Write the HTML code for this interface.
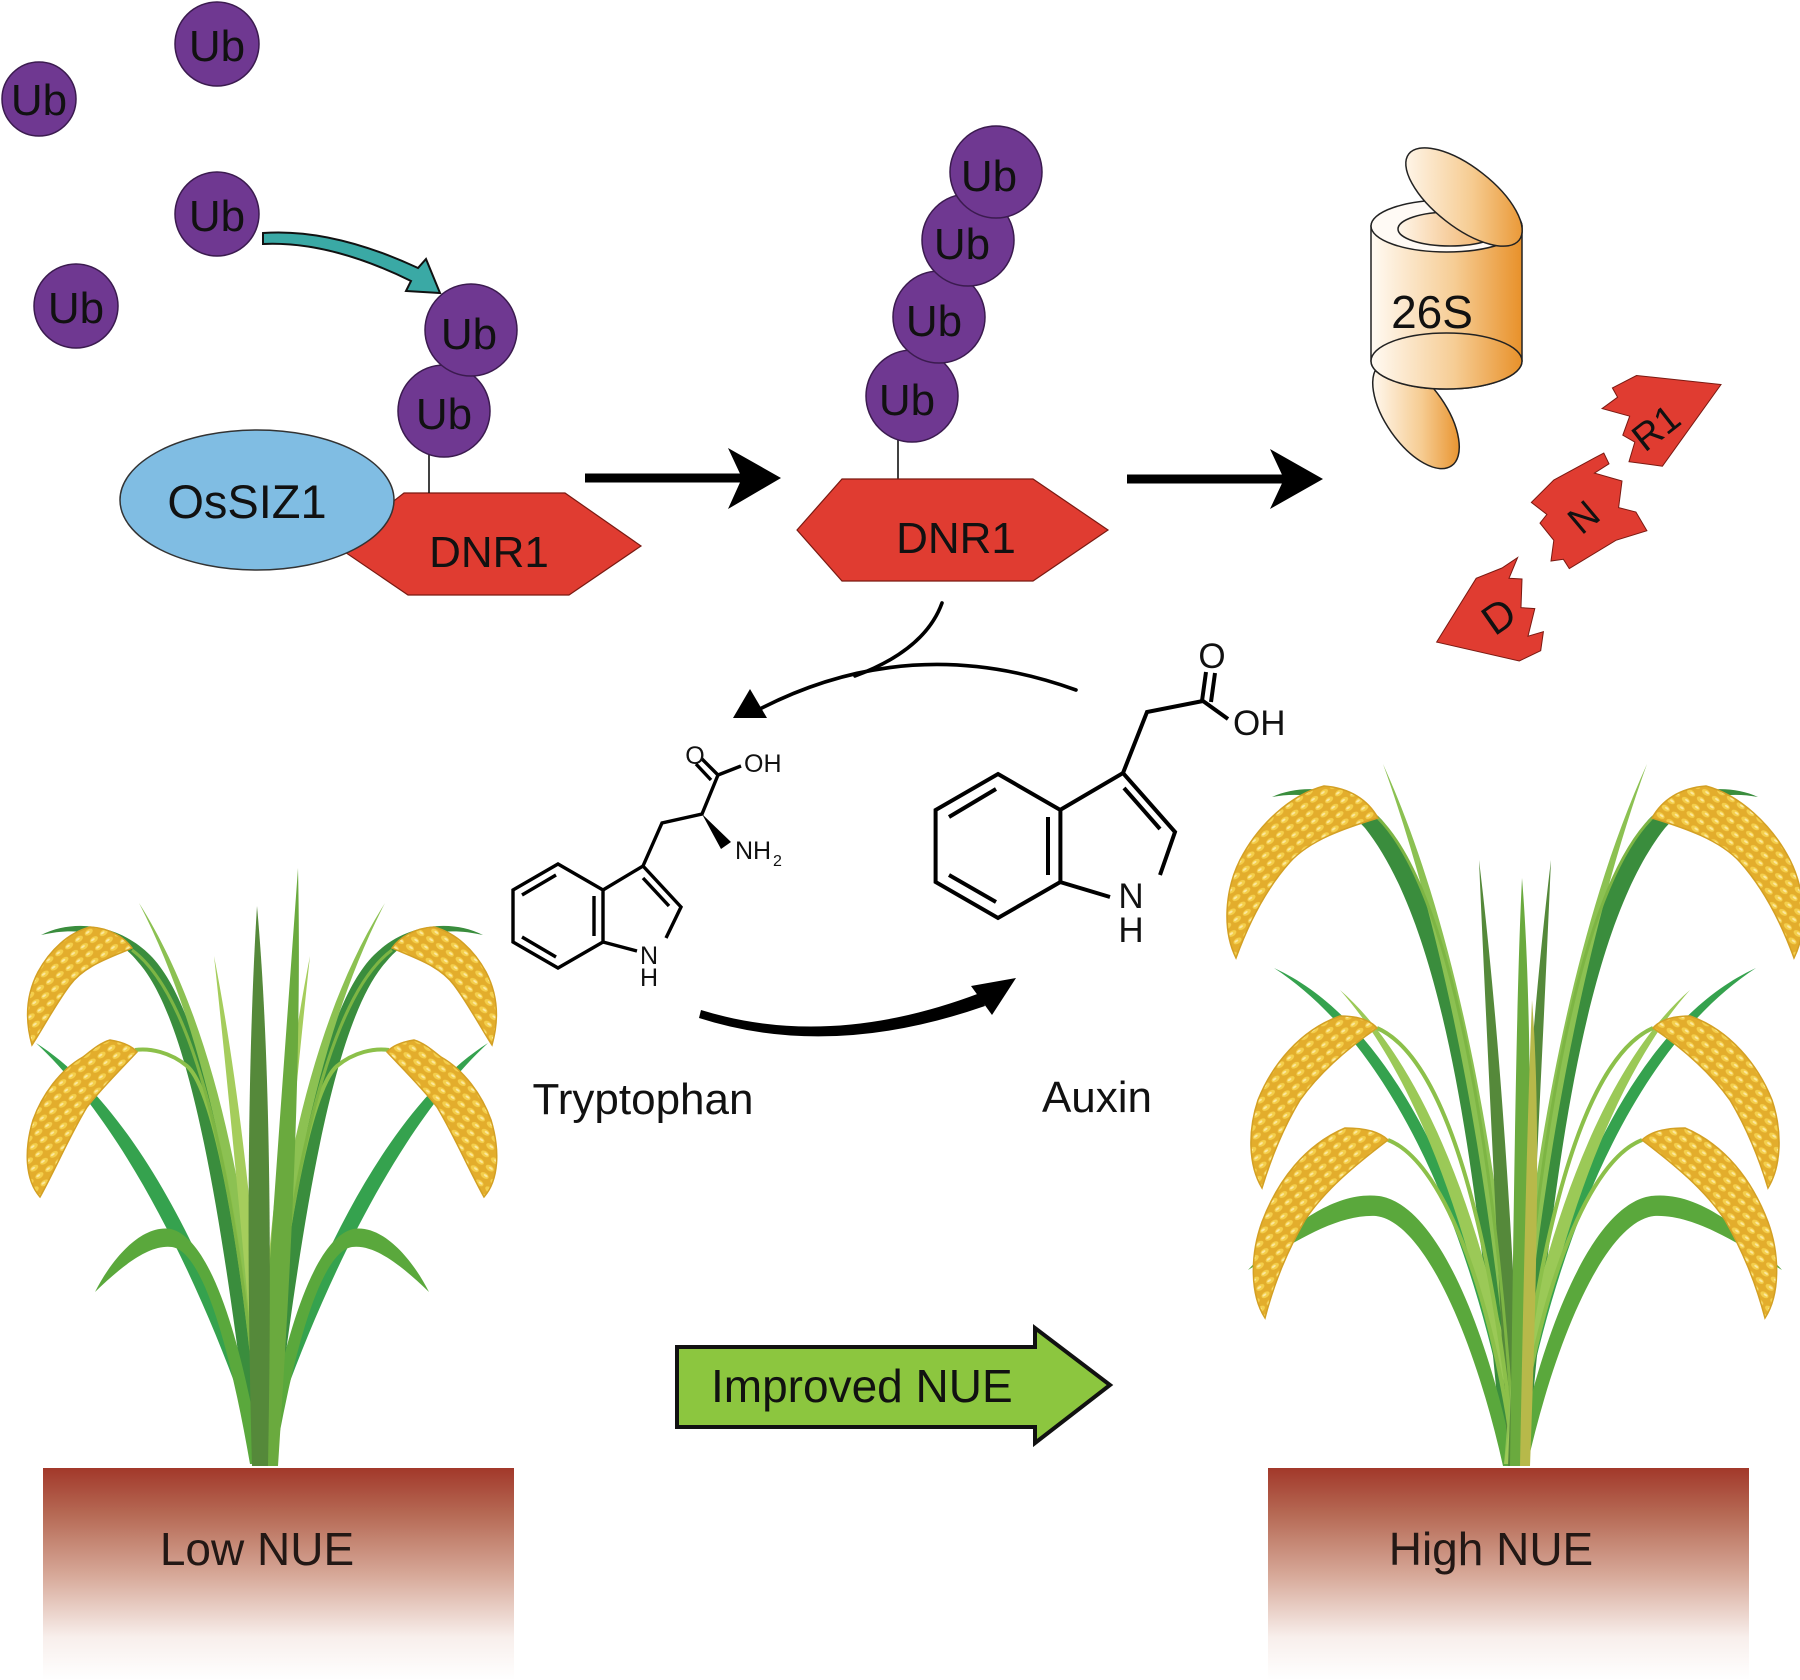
<!DOCTYPE html>
<html><head><meta charset="utf-8"><style>html,body{margin:0;padding:0;background:#fff}svg{display:block}</style></head>
<body>
<svg xmlns="http://www.w3.org/2000/svg" width="1800" height="1680" viewBox="0 0 1800 1680">
<defs>
<pattern id="grain" width="12" height="9" patternUnits="userSpaceOnUse" patternTransform="rotate(-35)">
<rect width="12" height="9" fill="#e3ad2c"/>
<ellipse cx="6" cy="4.5" rx="4.6" ry="2.7" fill="#f4cf4c"/>
<ellipse cx="5" cy="4" rx="2.2" ry="1" fill="#fbe8a0"/>
</pattern>
<linearGradient id="soil" x1="0" y1="0" x2="0" y2="1">
<stop offset="0" stop-color="#a2382a"/>
<stop offset="0.22" stop-color="#b66a55"/>
<stop offset="0.5" stop-color="#d6a797"/>
<stop offset="0.8" stop-color="#f8efec"/>
<stop offset="1" stop-color="#ffffff"/>
</linearGradient>
<linearGradient id="cyl" gradientUnits="userSpaceOnUse" x1="1371" y1="0" x2="1522" y2="0">
<stop offset="0" stop-color="#fffaf3"/><stop offset="0.55" stop-color="#f6cd95"/><stop offset="1" stop-color="#e8912a"/>
</linearGradient>
<linearGradient id="capT" gradientUnits="userSpaceOnUse" x1="1400" y1="0" x2="1530" y2="0">
<stop offset="0" stop-color="#fff8ef"/><stop offset="0.55" stop-color="#f6cc92"/><stop offset="1" stop-color="#e8912a"/>
</linearGradient>
<linearGradient id="capB" gradientUnits="userSpaceOnUse" x1="1372" y1="0" x2="1462" y2="0">
<stop offset="0" stop-color="#fff8ef"/><stop offset="0.55" stop-color="#f6cc92"/><stop offset="1" stop-color="#e8912a"/>
</linearGradient>
<linearGradient id="hole" gradientUnits="userSpaceOnUse" x1="1398" y1="0" x2="1502" y2="0">
<stop offset="0" stop-color="#fff6ea"/><stop offset="1" stop-color="#eea550"/>
</linearGradient>
</defs>

<!-- Free Ub -->
<g fill="#6f3891" stroke="#3b1b4f" stroke-width="1.5">
<circle cx="217" cy="44" r="42"/>
<circle cx="39" cy="99" r="37"/>
<circle cx="217" cy="214" r="42"/>
<circle cx="76" cy="306" r="42"/>
</g>

<!-- teal arrow -->
<path d="M263 233 Q332 228 418 268 L426 259 L440 293 L406 291 L411 281 Q330 241 263 244 Z" fill="#3aa9a5" stroke="#111" stroke-width="2" stroke-linejoin="miter"/>

<!-- left complex -->
<polygon points="336,546 404,493 565,493 641,546 569,595 408,595" fill="#e03c31" stroke="#7a1a12" stroke-width="1.2"/>
<ellipse cx="257" cy="500" rx="137" ry="70" fill="#80bde3" stroke="#333" stroke-width="1.5"/>
<line x1="429" y1="455" x2="429" y2="493" stroke="#111" stroke-width="1.6"/>
<g fill="#6f3891" stroke="#3b1b4f" stroke-width="1.5">
<circle cx="444" cy="411" r="46"/>
<circle cx="471" cy="330" r="46"/>
</g>

<!-- arrows black -->
<line x1="585" y1="478" x2="750" y2="478" stroke="#000" stroke-width="9"/>
<polygon points="781,478 728,448 742,478 728,509" fill="#000"/>
<line x1="1127" y1="479" x2="1292" y2="479" stroke="#000" stroke-width="9"/>
<polygon points="1323,479 1270,449 1284,479 1270,509" fill="#000"/>

<!-- middle complex -->
<line x1="898" y1="440" x2="898" y2="479" stroke="#111" stroke-width="1.6"/>
<polygon points="797,530 842,479 1033,479 1108,530 1033,581 842,581" fill="#e03c31" stroke="#7a1a12" stroke-width="1.2"/>
<g fill="#6f3891" stroke="#3b1b4f" stroke-width="1.5">
<circle cx="912" cy="396" r="46"/>
<circle cx="939" cy="317" r="46"/>
<circle cx="968" cy="240" r="46"/>
<circle cx="996" cy="172" r="46"/>
</g>

<!-- proteasome -->
<g stroke="#222" stroke-width="1.5">
<path d="M1380.4 364.2 A62 30 55 1 1 1451.6 465.8 A62 30 55 1 1 1380.4 364.2 Z" fill="url(#capB)"/>
<path d="M1371 226 L1371 361 A75.5 28 0 0 0 1522 361 L1522 226 Z" fill="url(#cyl)"/>
<ellipse cx="1446.5" cy="226" rx="75.5" ry="26" fill="#fffaf5"/>
<ellipse cx="1450" cy="229" rx="52" ry="17" fill="url(#hole)"/>
<ellipse cx="1446.5" cy="361" rx="75.5" ry="28" fill="url(#cyl)"/>
<path d="M1408.8 153.9 A70 30 38 1 1 1519.2 240.1 A70 30 38 1 1 1408.8 153.9 Z" fill="url(#capT)"/>
</g>

<!-- fragments -->
<g fill="#e03c31" stroke="#7a1a12" stroke-width="1">
<polygon points="1636.6,375.5 1612.4,387.9 1617.6,397.2 1602.1,408.6 1629.7,416.2 1622.8,435.2 1634.8,442.1 1629,461.7 1662.4,466.2 1721,384.5"/>
<polygon points="1531.4,502.4 1553.8,480 1595.2,457.6 1603.8,453.1 1609,463.8 1594.5,473.1 1622,481 1618.6,507.6 1635.9,512 1646.9,530.7 1615.9,540.3 1569.3,568.6 1563.4,559.3 1551,561 1553.8,540.3 1540,523.1 1546.9,514.5"/>
<polygon points="1436.6,642.1 1476.2,578.3 1502,568 1517.6,557.6 1509,578.3 1522,579 1521,607.6 1534.8,608.6 1528,636.2 1543.4,631.7 1540.7,650.7 1519.3,661"/>
</g>

<!-- upper curved arrow -->
<g fill="none" stroke="#000" stroke-width="3.6" stroke-linecap="round">
<path d="M1076 690 Q910 630 756 711"/>
<path d="M942 603 Q925 650 855 676"/>
</g>
<polygon points="750,689 733,718 767,718" fill="#000"/>

<!-- lower arrow -->
<path d="M701 1010 Q830 1050 980 993 L985 1006 Q830 1060 699 1018 Z" fill="#000"/>
<polygon points="1016,978 971,986 992,1015" fill="#000"/>

<!-- Tryptophan -->
<g fill="none" stroke="#000" stroke-width="3.4" stroke-linejoin="miter" stroke-linecap="butt">
<polygon points="558,864 603,890 603,942 558,968 513,942 513,890"/>
<line x1="522" y1="895" x2="556" y2="875"/>
<line x1="594" y1="896" x2="594" y2="936"/>
<line x1="522" y1="937" x2="556" y2="957"/>
<polyline points="603,890 643,866 681,907 666,938"/>
<line x1="637" y1="951" x2="603" y2="942"/>
<line x1="643" y1="878" x2="669" y2="906"/>
<polyline points="643,866 662,823 702,814 718,775"/>
<line x1="718" y1="775" x2="702" y2="759"/>
<line x1="711" y1="780" x2="696" y2="764"/>
<line x1="718" y1="775" x2="741" y2="766"/>
</g>
<polygon points="702,814 721,849 731,842" fill="#000"/>

<!-- Auxin -->
<g fill="none" stroke="#000" stroke-width="4" stroke-linejoin="miter">
<polygon points="998,774 1060.4,810 1060.4,882 998,918 935.6,882 935.6,810"/>
<line x1="949" y1="817" x2="996" y2="789"/>
<line x1="1048" y1="817" x2="1048" y2="875"/>
<line x1="949" y1="875" x2="996" y2="902"/>
<polyline points="1060,810 1123,773 1175,832 1160,875"/>
<line x1="1110" y1="897" x2="1060" y2="882"/>
<line x1="1124" y1="788" x2="1160" y2="829"/>
<polyline points="1123,773 1147,712 1203,701"/>
<line x1="1202" y1="701" x2="1206" y2="672"/>
<line x1="1211" y1="702" x2="1215" y2="673"/>
<line x1="1203" y1="701" x2="1228" y2="719"/>
</g>

<!-- Improved NUE arrow -->
<polygon points="677,1347 1035,1347 1035,1328 1110,1385 1035,1443 1035,1427 677,1427" fill="#8cc63f" stroke="#111" stroke-width="4" stroke-linejoin="miter"/>

<!-- Soil -->
<rect x="43" y="1468" width="471" height="212" fill="url(#soil)"/>
<rect x="1268" y="1468" width="481" height="212" fill="url(#soil)"/>

<!-- Left plant -->
<g>
<g>
<path d="M262 1462 C220 1330 140 1140 36 1043 C150 1115 236 1320 271 1462 Z" fill="#35a24e"/>
<path d="M264 1462 C240 1250 215 1020 150 955 C120 925 75 918 41 935 C80 926 115 933 138 962 C195 1025 226 1250 252 1462 Z" fill="#3a8d3d"/>
<path d="M262 1462 C245 1250 215 1050 139 903 C226 1040 256 1250 271 1462 Z" fill="#8cc152"/>
<path d="M262 1462 Q235 1150 214 956 Q252 1150 271 1462 Z" fill="#a5cd5c"/>
<path d="M262 1464 C245 1360 215 1240 171 1229 C140 1224 110 1262 95 1292 C120 1268 148 1244 172 1247 C205 1252 232 1360 250 1464 Z" fill="#5aa83c"/>
<path d="M262 1462 C245 1250 215 1090 187 1066 C170 1052 150 1048 135 1050" fill="none" stroke="#8cc04a" stroke-width="4"/>
<path d="M262 1462 C240 1200 200 1000 132 950" fill="none" stroke="#7db544" stroke-width="3"/>
</g>
<g transform="matrix(-1 0 0 1 524 0)">
<path d="M262 1462 C220 1330 140 1140 36 1043 C150 1115 236 1320 271 1462 Z" fill="#35a24e"/>
<path d="M264 1462 C240 1250 215 1020 150 955 C120 925 75 918 41 935 C80 926 115 933 138 962 C195 1025 226 1250 252 1462 Z" fill="#3a8d3d"/>
<path d="M262 1462 C245 1250 215 1050 139 903 C226 1040 256 1250 271 1462 Z" fill="#8cc152"/>
<path d="M262 1462 Q235 1150 214 956 Q252 1150 271 1462 Z" fill="#a5cd5c"/>
<path d="M262 1464 C245 1360 215 1240 171 1229 C140 1224 110 1262 95 1292 C120 1268 148 1244 172 1247 C205 1252 232 1360 250 1464 Z" fill="#5aa83c"/>
<path d="M262 1462 C245 1250 215 1090 187 1066 C170 1052 150 1048 135 1050" fill="none" stroke="#8cc04a" stroke-width="4"/>
<path d="M262 1462 C240 1200 200 1000 132 950" fill="none" stroke="#7db544" stroke-width="3"/>
</g>
<path d="M256 1466 C270 1250 285 1050 298 868 C302 1050 292 1250 278 1466 Z" fill="#6aaa3e"/>
<path d="M252 1466 C246 1250 248 1050 257 906 C270 1050 272 1250 268 1466 Z" fill="#55893a"/>
<g fill="url(#grain)" stroke="#d3a024" stroke-width="1.5">
<path d="M90 927 C110 928 125 938 132 948 C110 958 85 965 70 985 C55 1005 42 1030 32 1045 C25 1020 26 995 38 972 C50 950 68 933 90 927 Z"/>
<path d="M110 1040 C122 1042 132 1046 137 1052 C120 1070 100 1090 87 1107 C70 1135 55 1170 40 1197 C25 1180 24 1150 33 1120 C42 1095 60 1070 83 1057 C92 1050 100 1043 110 1040 Z"/>
</g>
<g fill="url(#grain)" stroke="#d3a024" stroke-width="1.5" transform="matrix(-1 0 0 1 524 0)">
<path d="M90 927 C110 928 125 938 132 948 C110 958 85 965 70 985 C55 1005 42 1030 32 1045 C25 1020 26 995 38 972 C50 950 68 933 90 927 Z"/>
<path d="M110 1040 C122 1042 132 1046 137 1052 C120 1070 100 1090 87 1107 C70 1135 55 1170 40 1197 C25 1180 24 1150 33 1120 C42 1095 60 1070 83 1057 C92 1050 100 1043 110 1040 Z"/>
</g>
</g>

<!-- Right plant -->
<g>
<g>
<path d="M1515 1464 C1480 1250 1400 1050 1274 968 C1410 1030 1492 1250 1526 1464 Z" fill="#35a24e"/>
<path d="M1517 1464 C1497 1200 1472 930 1382 820 C1352 788 1305 782 1272 797 C1310 790 1340 800 1365 828 C1450 935 1480 1200 1503 1464 Z" fill="#3a8d3d"/>
<path d="M1515 1464 C1495 1200 1450 950 1383 764 C1465 945 1505 1200 1526 1464 Z" fill="#8cc152"/>
<path d="M1515 1464 C1480 1250 1420 1080 1340 990 C1430 1068 1496 1250 1526 1464 Z" fill="#9bc957"/>
<path d="M1515 1466 C1490 1340 1440 1205 1379 1196 C1330 1190 1280 1235 1248 1270 C1290 1245 1335 1214 1376 1216 C1425 1222 1475 1340 1503 1466 Z" fill="#5aa83c"/>
<path d="M1508 1466 C1495 1200 1485 1000 1479 860 C1496 1000 1512 1200 1522 1466 Z" fill="#55893a"/>
<path d="M1515 1464 C1495 1250 1450 1060 1377 1028" fill="none" stroke="#8cc04a" stroke-width="4"/>
<path d="M1515 1464 C1490 1280 1440 1160 1388 1140" fill="none" stroke="#8cc04a" stroke-width="4"/>
<path d="M1515 1464 C1500 1200 1460 900 1378 818" fill="none" stroke="#7db544" stroke-width="3"/>
</g>
<g transform="matrix(-1 0 0 1 3030 0)">
<path d="M1515 1464 C1480 1250 1400 1050 1274 968 C1410 1030 1492 1250 1526 1464 Z" fill="#35a24e"/>
<path d="M1517 1464 C1497 1200 1472 930 1382 820 C1352 788 1305 782 1272 797 C1310 790 1340 800 1365 828 C1450 935 1480 1200 1503 1464 Z" fill="#3a8d3d"/>
<path d="M1515 1464 C1495 1200 1450 950 1383 764 C1465 945 1505 1200 1526 1464 Z" fill="#8cc152"/>
<path d="M1515 1464 C1480 1250 1420 1080 1340 990 C1430 1068 1496 1250 1526 1464 Z" fill="#9bc957"/>
<path d="M1515 1466 C1490 1340 1440 1205 1379 1196 C1330 1190 1280 1235 1248 1270 C1290 1245 1335 1214 1376 1216 C1425 1222 1475 1340 1503 1466 Z" fill="#5aa83c"/>
<path d="M1508 1466 C1495 1200 1485 1000 1479 860 C1496 1000 1512 1200 1522 1466 Z" fill="#55893a"/>
<path d="M1515 1464 C1495 1250 1450 1060 1377 1028" fill="none" stroke="#8cc04a" stroke-width="4"/>
<path d="M1515 1464 C1490 1280 1440 1160 1388 1140" fill="none" stroke="#8cc04a" stroke-width="4"/>
<path d="M1515 1464 C1500 1200 1460 900 1378 818" fill="none" stroke="#7db544" stroke-width="3"/>
</g>
<path d="M1510 1466 C1514 1200 1516 1000 1522 878 C1532 1000 1532 1200 1526 1466 Z" fill="#6aaa3e"/>
<path d="M1520 1466 C1524 1250 1528 1100 1532 1000 C1540 1100 1538 1250 1530 1466 Z" fill="#b7b94a"/>
<g fill="url(#grain)" stroke="#d3a024" stroke-width="1.5">
<path d="M1324 786 C1350 788 1368 800 1378 818 C1345 828 1310 840 1290 862 C1265 890 1248 925 1236 958 C1222 930 1225 890 1240 860 C1258 825 1290 795 1324 786 Z"/>
<path d="M1340 1016 C1358 1016 1370 1020 1377 1028 C1345 1050 1318 1075 1300 1100 C1285 1125 1272 1155 1262 1188 C1248 1165 1248 1130 1258 1100 C1272 1065 1300 1030 1340 1016 Z"/>
<path d="M1345 1128 C1365 1128 1380 1132 1388 1140 C1355 1165 1325 1190 1305 1220 C1288 1250 1275 1280 1265 1318 C1250 1295 1250 1255 1262 1222 C1278 1180 1305 1145 1345 1128 Z"/>
</g>
<g fill="url(#grain)" stroke="#d3a024" stroke-width="1.5" transform="matrix(-1 0 0 1 3030 0)">
<path d="M1324 786 C1350 788 1368 800 1378 818 C1345 828 1310 840 1290 862 C1265 890 1248 925 1236 958 C1222 930 1225 890 1240 860 C1258 825 1290 795 1324 786 Z"/>
<path d="M1340 1016 C1358 1016 1370 1020 1377 1028 C1345 1050 1318 1075 1300 1100 C1285 1125 1272 1155 1262 1188 C1248 1165 1248 1130 1258 1100 C1272 1065 1300 1030 1340 1016 Z"/>
<path d="M1345 1128 C1365 1128 1380 1132 1388 1140 C1355 1165 1325 1190 1305 1220 C1288 1250 1275 1280 1265 1318 C1250 1295 1250 1255 1262 1222 C1278 1180 1305 1145 1345 1128 Z"/>
</g>
</g>

<!-- Text -->
<g font-family="'Liberation Sans', Arial, sans-serif" fill="#111">
<g font-size="44" text-anchor="middle">
<text x="217" y="61">Ub</text>
<text x="39" y="115">Ub</text>
<text x="217" y="231">Ub</text>
<text x="76" y="323">Ub</text>
<text x="444" y="429">Ub</text>
<text x="469" y="349">Ub</text>
<text x="907" y="415">Ub</text>
<text x="934" y="336">Ub</text>
<text x="962" y="259">Ub</text>
<text x="989" y="191">Ub</text>
<text x="247" y="518" font-size="47">OsSIZ1</text>
<text x="489" y="567">DNR1</text>
<text x="956" y="553">DNR1</text>
<text x="1432" y="328" font-size="46">26S</text>
<text x="643" y="1114">Tryptophan</text>
<text x="1097" y="1112">Auxin</text>
</g>
<text font-size="38" text-anchor="middle" transform="translate(1664,438) rotate(-38)">R1</text>
<text font-size="38" text-anchor="middle" transform="translate(1592,527) rotate(-40)">N</text>
<text font-size="42" text-anchor="middle" transform="translate(1507,628) rotate(-35)">D</text>
<g font-size="25">
<text x="695" y="764" text-anchor="middle">O</text>
<text x="744" y="772">OH</text>
<text x="735" y="859">NH</text>
<text x="773" y="866" font-size="16">2</text>
<text x="649" y="964" text-anchor="middle">N</text>
<text x="649" y="986" text-anchor="middle">H</text>
</g>
<g font-size="35">
<text x="1212" y="668" text-anchor="middle">O</text>
<text x="1233" y="735">OH</text>
<text x="1131" y="908" text-anchor="middle">N</text>
<text x="1131" y="942" text-anchor="middle">H</text>
</g>
<text x="711" y="1402" font-size="46">Improved NUE</text>
<g font-size="46" text-anchor="middle" fill="#231815">
<text x="257" y="1565">Low NUE</text>
<text x="1491" y="1565">High NUE</text>
</g>
</g>
</svg>
</body></html>
